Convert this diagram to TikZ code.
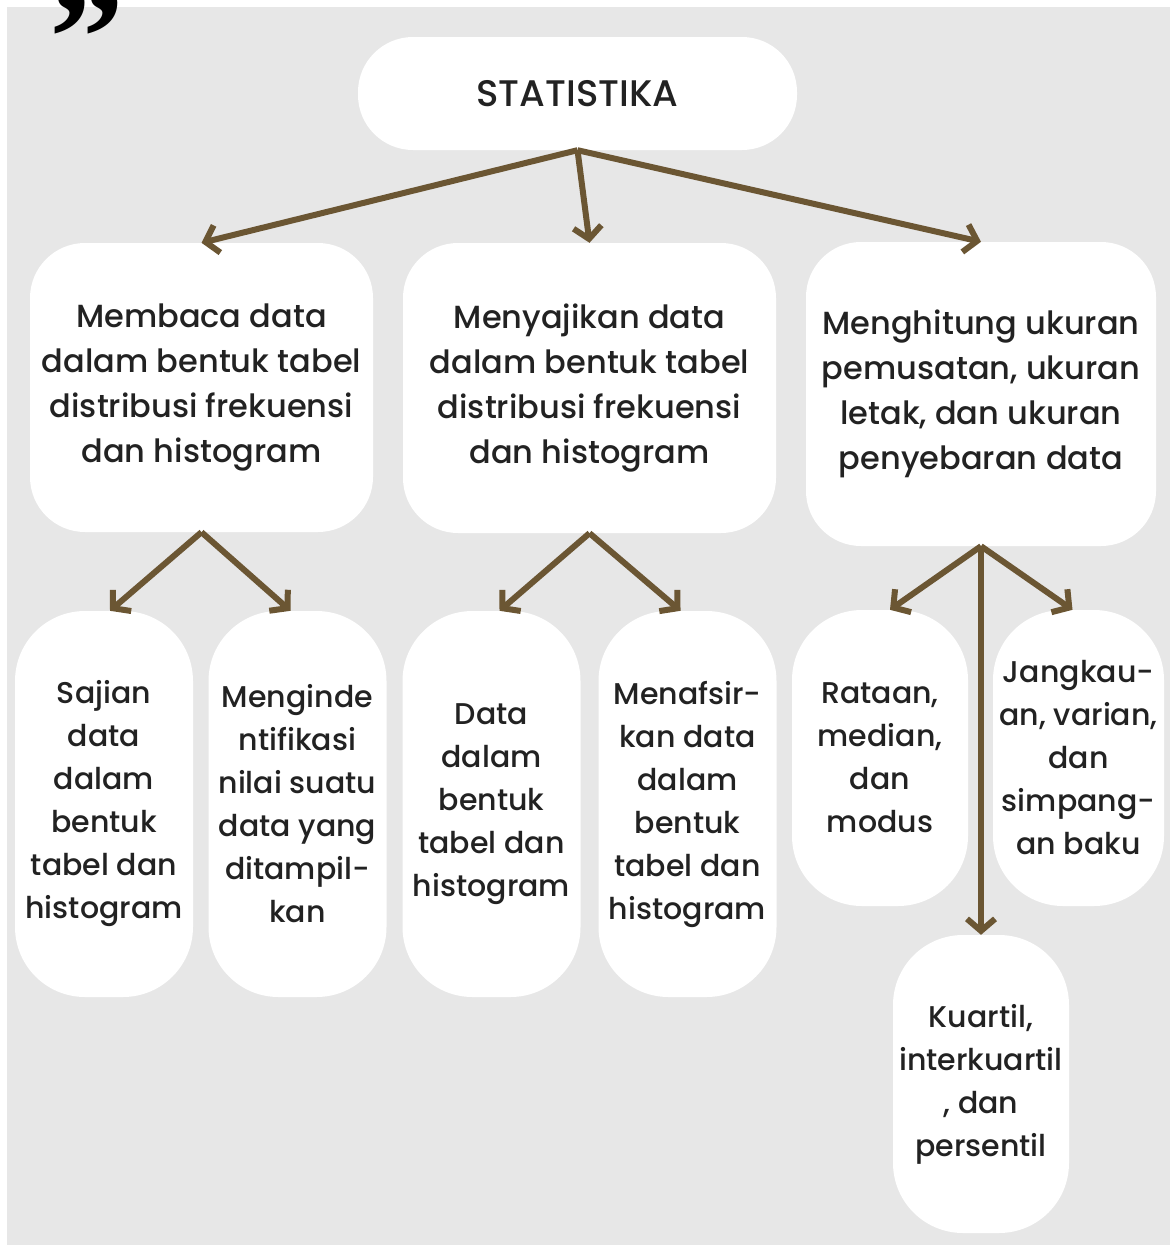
\documentclass[tikz,border=0pt]{standalone}
\usepackage{fontspec}
\setmainfont{Poppins Medium}
\newfontfamily\quotefont{Liberation Serif}
\usetikzlibrary{arrows.meta}

\definecolor{bgGray}{HTML}{E7E7E7}
\definecolor{arrBrown}{HTML}{6B5633}
\definecolor{txtDark}{HTML}{222222}

\begin{document}
\begin{tikzpicture}[x=1pt, y=-1pt, >={Straight Barb[length=12pt, width=28pt]},
    box/.style={fill=white, rounded corners=55pt, align=center, inner sep=0pt,
      text=txtDark, font=\fontsize{32}{45}\selectfont},
    leaf/.style={box, rounded corners=70pt, minimum width=178pt, minimum height=386pt,
      font=\fontsize{30}{43}\selectfont},
    link/.style={->, arrBrown, line width=6pt}]
      \useasboundingbox (0,0) rectangle (1170,1245);
      \fill[white] (0,0) rectangle (1170,1245);
      \fill[bgGray] (7,7) rectangle (1170,1245);

      \node[anchor=base west, inner sep=0pt, font=\quotefont\bfseries\fontsize{150}{150}\selectfont] (quote) at (49,88) {”};

      \node[box, minimum width=439pt, minimum height=113pt, font=\fontsize{37}{40}\selectfont] (stat) at (577.5,93.5) {STATISTIKA};

      \node[box, minimum width=343pt, minimum height=289pt] (baca) at (201.5,387.5) {Membaca data\\dalam bentuk tabel\\distribusi frekuensi\\dan histogram};
      \node[box, minimum width=373pt, minimum height=290pt] (saji) at (589.5,388) {Menyajikan data\\dalam bentuk tabel\\distribusi frekuensi\\dan histogram};
      \node[box, minimum width=350pt, minimum height=304pt] (hitung) at (981,394) {Menghitung ukuran\\pemusatan, ukuran\\letak, dan ukuran\\penyebaran data};

      \node[leaf] (sajian) at (104,804) {Sajian\\data\\dalam\\bentuk\\tabel dan\\histogram};
      \node[leaf] (identi) at (297.5,804) {Menginde\\ntifikasi\\nilai suatu\\data yang\\ditampil-\\kan};
      \node[leaf] (tabhis) at (491.5,804) {Data\\dalam\\bentuk\\tabel dan\\histogram};
      \node[leaf] (tafsir) at (687.5,804) {Menafsir-\\kan data\\dalam\\bentuk\\tabel dan\\histogram};

      \node[leaf, minimum width=176pt, minimum height=296pt] (rataan) at (880,758) {Rataan,\\median,\\dan\\modus};
      \node[leaf, minimum width=171pt, minimum height=296pt] (jangkau) at (1078.5,758) {Jangkau-\\an, varian,\\dan\\simpang-\\an baku};
      \node[leaf, minimum width=176pt, minimum height=298pt] (kuartil) at (981,1084) {Kuartil,\\interkuartil\\, dan\\persentil};

      \draw[link] (stat.south) -- (baca.north);
      \draw[link] (stat.south) -- (saji.north);
      \draw[link] (stat.south) -- (hitung.north);

      \draw[link] (baca.south) -- ([xshift=6pt]sajian.north);
      \draw[link] (baca.south) -- ([xshift=-7pt]identi.north);
      \draw[link] (saji.south) -- ([xshift=8pt]tabhis.north);
      \draw[link] (saji.south) -- ([xshift=-7pt]tafsir.north);

      \draw[link] (hitung.south) -- ([xshift=10pt]rataan.north);
      \draw[link] (hitung.south) -- ([xshift=-6pt]jangkau.north);
      \draw[link] (hitung.south) -- (kuartil.north);
    \end{tikzpicture}
\end{document}
